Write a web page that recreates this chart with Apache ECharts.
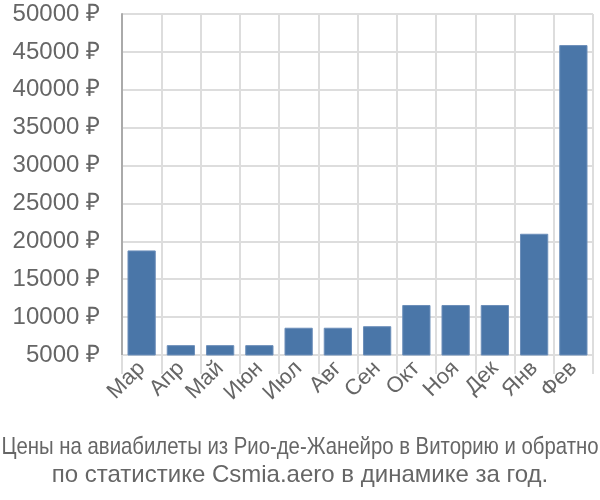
<!DOCTYPE html>
<html><head><meta charset="utf-8">
<script src="https://cdn.jsdelivr.net/npm/echarts@6/dist/echarts.min.js"></script>
<style>html,body{margin:0;padding:0;background:#fff}#c{width:600px;height:500px}</style>
</head><body><div id="c"></div>
<script>
const categories = ['Мар','Апр','Май','Июн','Июл','Авг','Сен','Окт','Ноя','Дек','Янв','Фев'];
const prices = [18800, 6300, 6300, 6300, 8600, 8600, 8800, 11600, 11600, 11600, 21000, 45900];
const titleLine1 = 'Цены на авиабилеты из Рио-де-Жанейро в Виторию и обратно';
const titleLine2 = 'по статистике Csmia.aero в динамике за год.';

const font = '24px "Liberation Sans"';
const cv = document.createElement('canvas').getContext('2d');
cv.font = font;
const w1 = cv.measureText(titleLine1).width;
const sx1 = Math.min(1, 597 / w1);

const chart = echarts.init(document.getElementById('c'), null, {renderer:'canvas'});
chart.setOption({
  animation:false,
  grid:{left:122, right:7, top:14, bottom:145},
  graphic:[
    {type:'text', x:300, y:447, scaleX:sx1, style:{text:titleLine1, font:font, fill:'#666', align:'center', verticalAlign:'middle'}},
    {type:'text', x:300, y:475, style:{text:titleLine2, font:font, fill:'#666', align:'center', verticalAlign:'middle'}}
  ],
  xAxis:{
    type:'category', data:categories,
    axisLine:{show:false},
    axisTick:{show:true, length:19, lineStyle:{color:'#ddd', width:2}},
    splitLine:{show:true, lineStyle:{color:'#ddd', width:2}},
    axisLabel:{rotate:45, fontSize:22, color:'#666', fontFamily:'Liberation Sans', margin:10, interval:0}
  },
  yAxis:{
    type:'value', min:5000, max:50000, interval:5000,
    axisLine:{show:true, lineStyle:{color:'#aaa', width:2}},
    axisTick:{show:false},
    splitLine:{lineStyle:{color:'#ddd', width:2}},
    axisLabel:{fontSize:24, color:'#666', fontFamily:'Liberation Sans', margin:22, formatter:v=>v+' ₽'}
  },
  series:[{type:'bar', data:prices, barWidth:'72%',
    itemStyle:{color:'#4a76a8', borderColor:'#6d8fba', borderWidth:1}}]
});
</script></body></html>
